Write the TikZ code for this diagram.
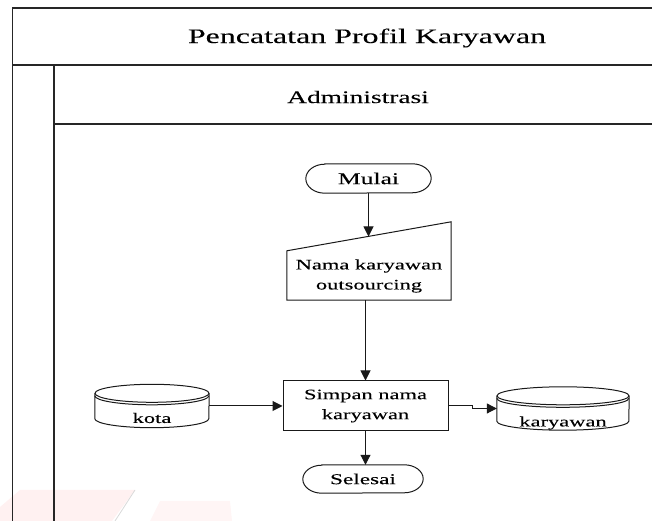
\documentclass[tikz,border=0pt]{standalone}
\usepackage{fontspec}
\setmainfont{Liberation Serif}[FakeStretch=1.55, FakeBold=0.12]
\usetikzlibrary{arrows.meta,calc}

% start/stop symbol: box with half-ellipse ends
\newcommand{\flowterm}[7]{%
  \node (#1) [lbl, font=\fontsize{#7bp}{20bp}\selectfont,
    minimum width=#4bp, minimum height=#5bp] at (#2,#3) {#6};
  \draw[box] ($(#1.north west)+(19,0)$) -- ($(#1.north east)+(-19,0)$)
    arc[start angle=90, end angle=-90, x radius=19, y radius=#5/2]
    -- ($(#1.south west)+(19,0)$)
    arc[start angle=270, end angle=90, x radius=19, y radius=#5/2] -- cycle;}

% stored-data symbol: cylinder with a double rim
\newcommand{\flowstore}[2]{%
  \draw[box] ($(#1.north)+(0,-9)$) ellipse[x radius=#2, y radius=9];
  \draw[box] ($(#1.north west)+(0,-9)$) -- ($(#1.south west)+(0,9)$)
    arc[start angle=180, end angle=360, x radius=#2, y radius=9]
    -- ($(#1.north east)+(0,-9)$);
  \draw[box] ($(#1.north west)+(0,-11.5)$)
    arc[start angle=180, end angle=360, x radius=#2, y radius=9];}

\begin{document}
\begin{tikzpicture}[x=1bp, y=1bp,
  frame/.style={draw=black!85, line width=1.4bp},
  box/.style={draw=black!90, line width=1bp},
  flow/.style={draw=black!90, line width=1bp,
    -{Triangle[length=10bp, width=10bp]}},
  lbl/.style={font=\fontsize{14.5bp}{20bp}\selectfont, align=center,
    inner sep=0pt},
]
\useasboundingbox (0,0) rectangle (652,521);

% watermark remnant in the lower left corner
\fill[red!55!white, opacity=0.1] (0,0) -- (0,14) -- (20,31) -- (135,31)
  -- (112,0) -- cycle;
\fill[red!55!white, opacity=0.07] (150,0) -- (160,20) -- (230,20) -- (232,0) -- cycle;
\draw[black!15, line width=0.8bp] (135,31) -- (115,0);

% swimlane frame
\draw[frame] (652,513) -- (12.5,513) -- (12.5,0);
\draw[frame] (12.5,456) -- (652,456);
\draw[frame] (54,456) -- (54,0);
\draw[frame] (54,397) -- (652,397);
\node (title) [font=\fontsize{20.6bp}{24bp}\selectfont] at (367,483)
  {Pencatatan Profil Karyawan};
\node (lane) [font=\fontsize{17.7bp}{20bp}\selectfont] at (358,424)
  {Administrasi};

% start
\flowterm{mulai}{368.5}{342.5}{125}{29}{Mulai}{16.5}

% manual input
\node (input) [minimum width=164bp, minimum height=78bp, inner sep=0pt]
  at (369,260) {};
\draw[box] (input.south west) -- (input.south east) -- (input.north east)
  -- ($(input.north west)+(0,-29)$) -- cycle;
\node (inputtxt) [lbl] at (369,245) {Nama karyawan\\outsourcing};
\coordinate (inslant) at (368.5,284.5);

% process
\node (simpan) [box, lbl, minimum width=165bp, minimum height=50bp]
  at (365.5,115) {Simpan nama\\karyawan};

% data stores
\node (kota) [minimum width=114bp, minimum height=43bp, inner sep=0pt]
  at (152,115) {};
\flowstore{kota}{57}
\node (kotatxt) [lbl] at (152,103) {kota};

\node (karyawan) [minimum width=132bp, minimum height=43bp, inner sep=0pt]
  at (563,112.5) {};
\flowstore{karyawan}{66}
\node (karyawantxt) [lbl] at (563,98) {karyawan};

% end
\flowterm{selesai}{363}{42}{120}{28}{Selesai}{15}

% connectors
\draw[flow] (mulai.south) -- (inslant);
\draw[flow] (simpan.north |- input.south) -- (simpan.north);
\draw[flow] (kota.east) -- (simpan.west);
\draw[flow] (simpan.east) -- ++(24,0) |- (karyawan.west);
\draw[flow] (simpan.south) -- (simpan.south |- selesai.north);
\end{tikzpicture}
\end{document}
